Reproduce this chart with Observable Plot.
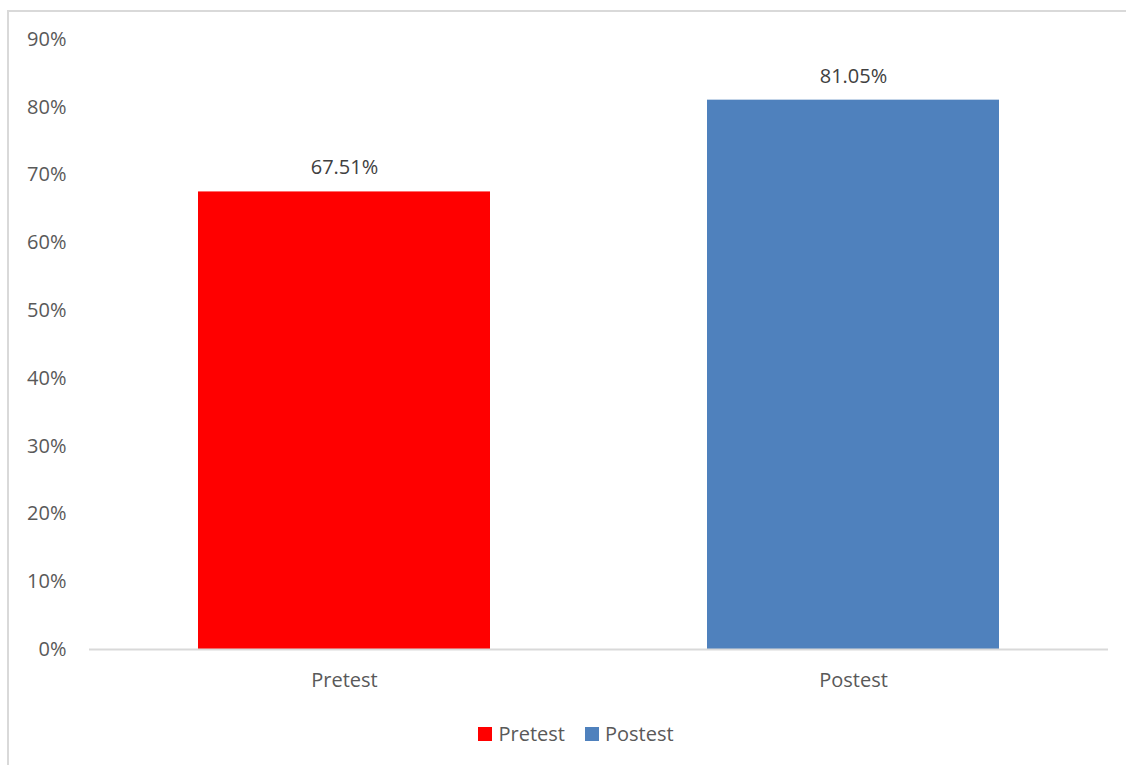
<!DOCTYPE html>
<html>
<head>
<meta charset="utf-8">
<script src="https://cdn.jsdelivr.net/npm/d3@7"></script>
<script src="https://cdn.jsdelivr.net/npm/@observablehq/plot@0.6"></script>
<style>
  html, body { margin: 0; padding: 0; background: #fff; overflow: hidden; }
  body { width: 1126px; height: 765px; position: relative; font-family: "Open Sans", sans-serif; }
  #frame { position: absolute; left: 7px; top: 10px; width: 1140px; height: 780px;
           border-left: 2px solid #d9d9d9; border-top: 2px solid #d9d9d9; }
  #chart { position: absolute; left: 0; top: 0; }
  #legend { position: absolute; top: 720px; left: 0; width: 1152px; display: flex; justify-content: center;
            font-size: 20px; color: #595959; gap: 20px; }
  .item { display: flex; align-items: center; gap: 6px; }
  .sw { width: 14px; height: 14px; display: inline-block; }
</style>
</head>
<body>
<div id="frame"></div>
<div id="chart"></div>
<div id="legend"></div>
<script>
const categories = ["Pretest", "Postest"];
const values = [0.6751, 0.8105];
const labels = ["67.51%", "81.05%"];
const colors = ["#FF0000", "#4F81BD"];
const yTicks = [0, 0.1, 0.2, 0.3, 0.4, 0.5, 0.6, 0.7, 0.8, 0.9];

const data = categories.map((c, i) => ({category: c, value: values[i], label: labels[i]}));

const chart = Plot.plot({
  width: 1126,
  height: 700,
  marginLeft: 89,
  marginRight: 18,
  marginTop: 39,
  marginBottom: 51,
  style: {fontFamily: "Open Sans, sans-serif", fontSize: "20px", color: "#595959", background: "transparent"},
  x: {domain: categories, paddingInner: 0.427, paddingOuter: 0.2135, axis: null},
  y: {domain: [0, 0.9], axis: null},
  color: {domain: categories, range: colors},
  marks: [
    Plot.barY(data, {x: "category", y: "value", fill: "category"}),
    Plot.ruleY([0], {stroke: "#d9d9d9", strokeWidth: 2}),
    Plot.axisY(yTicks, {tickSize: 0, tickPadding: 23, label: null, tickFormat: d => Math.round(d * 100) + "%", fontSize: 20, fill: "#595959"}),
    Plot.axisX({tickSize: 0, tickPadding: 23, label: null, fontSize: 20, fill: "#595959"}),
    Plot.text(data, {x: "category", y: "value", text: "label", dy: -24, fontSize: 20, fill: "#404040"})
  ]
});
document.getElementById("chart").appendChild(chart);

const legend = document.getElementById("legend");
categories.forEach((c, i) => {
  const item = document.createElement("div");
  item.className = "item";
  const sw = document.createElement("span");
  sw.className = "sw";
  sw.style.background = colors[i];
  const t = document.createElement("span");
  t.textContent = c;
  item.appendChild(sw);
  item.appendChild(t);
  legend.appendChild(item);
});
</script>
</body>
</html>
